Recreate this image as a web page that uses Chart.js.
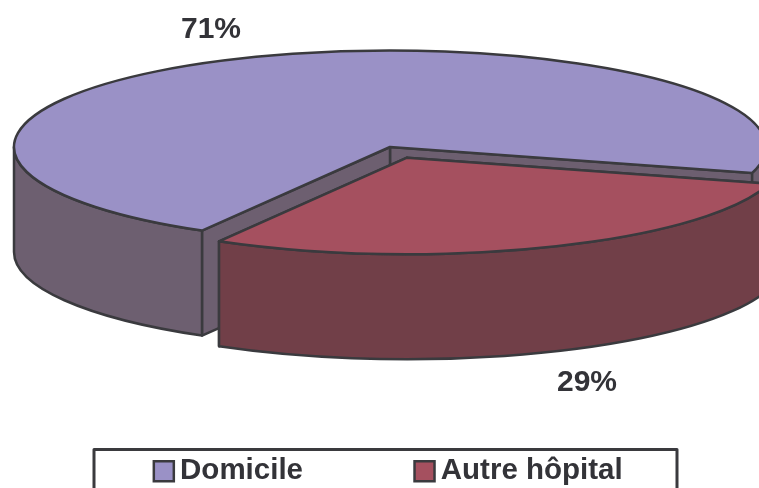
<!DOCTYPE html>
<html>
<head>
<meta charset="utf-8">
<script src="https://cdn.jsdelivr.net/npm/chart.js@4"></script>
<style>
    html, body { margin: 0; padding: 0; background: #fff; overflow: hidden; }
    canvas { display: block; }
</style>
</head>
<body>
<canvas id="pieChart" width="759" height="488"></canvas>
<script>
const categories = ['Domicile', 'Autre hôpital'];
const values = [71, 29];
const topColors = ['#9a91c6', '#a5505f'];
const wallColors = ['#6d5f70', '#713f48'];
const lineColor = '#3a3a3e';
const textColor = '#333338';

// flattened disc on screen
const disc = { cx: 390, cy: 147, rx: 376, ry: 96.5, depth: 105 };

// parts of an arc on the viewer's side of the disc
function frontSpans(a, b) {
    const spans = [];
    [0, 2 * Math.PI].forEach(function(base) {
        const lo = Math.max(a, base);
        const hi = Math.min(b, base + Math.PI);
        if (hi > lo) spans.push([lo, hi]);
    });
    return spans;
}

function paint(ctx, fill) {
    ctx.fillStyle = fill;
    ctx.fill();
    ctx.stroke();
}

// draws the pie slices as a tilted, extruded disc from the arc elements
const tiltedPie = {
    id: 'tiltedPie',
    beforeDatasetDraw: function() {
        return false;
    },
    afterDatasetsDraw: function(chart) {
        const ctx = chart.ctx;
        const arcs = chart.getDatasetMeta(0).data;
        ctx.save();
        ctx.strokeStyle = lineColor;
        ctx.lineWidth = 2.5;
        ctx.lineJoin = 'round';

        arcs.forEach(function(arc, i) {
            const a = arc.startAngle;
            const b = arc.endAngle;
            const mid = (a + b) / 2;
            const shift = arc.options.offset / 4 / arc.outerRadius * disc.rx;
            const x = disc.cx + Math.cos(mid) * shift;
            const y = disc.cy + Math.sin(mid) * shift * disc.ry / disc.rx;
            const d = disc.depth;
            const px = function(t) { return x + Math.cos(t) * disc.rx; };
            const py = function(t) { return y + Math.sin(t) * disc.ry; };

            // cut faces
            [b, a].forEach(function(t) {
                ctx.beginPath();
                ctx.moveTo(x, y);
                ctx.lineTo(px(t), py(t));
                ctx.lineTo(px(t), py(t) + d);
                ctx.lineTo(x, y + d);
                ctx.closePath();
                paint(ctx, wallColors[i]);
            });

            // outer wall
            frontSpans(a, b).forEach(function(s) {
                ctx.beginPath();
                ctx.ellipse(x, y, disc.rx, disc.ry, 0, s[0], s[1]);
                ctx.lineTo(px(s[1]), py(s[1]) + d);
                ctx.ellipse(x, y + d, disc.rx, disc.ry, 0, s[1], s[0], true);
                ctx.closePath();
                paint(ctx, wallColors[i]);
            });

            // top
            ctx.beginPath();
            ctx.moveTo(x, y);
            ctx.ellipse(x, y, disc.rx, disc.ry, 0, a, b);
            ctx.closePath();
            paint(ctx, topColors[i]);
        });

        // percent labels
        ctx.fillStyle = textColor;
        ctx.font = 'bold 30px "Liberation Sans", Arial, sans-serif';
        ctx.textAlign = 'center';
        ctx.textBaseline = 'middle';
        ctx.fillText(values[0] + '%', 211, 30);
        ctx.fillText(values[1] + '%', 587, 383);

        // legend frame
        ctx.lineWidth = 3;
        ctx.strokeRect(94, 449.5, 583, 60);
        ctx.restore();
    }
};

new Chart(document.getElementById('pieChart').getContext('2d'), {
    type: 'pie',
    data: {
        labels: categories,
        datasets: [{
            data: values,
            backgroundColor: topColors,
            borderColor: lineColor,
            borderWidth: 2.5,
            offset: [0, 72]
        }]
    },
    options: {
        responsive: false,
        animation: false,
        rotation: 210,
        radius: 150,
        layout: { padding: { left: 26, bottom: -8 } },
        plugins: {
            tooltip: { enabled: false },
            legend: {
                position: 'bottom',
                labels: {
                    usePointStyle: true,
                    pointStyle: 'rect',
                    boxWidth: 3,
                    boxHeight: 20,
                    padding: 120,
                    color: textColor,
                    font: { family: '"Liberation Sans", Arial, sans-serif', size: 29.5, weight: 'bold' }
                }
            }
        }
    },
    plugins: [tiltedPie]
});
</script>
</body>
</html>
